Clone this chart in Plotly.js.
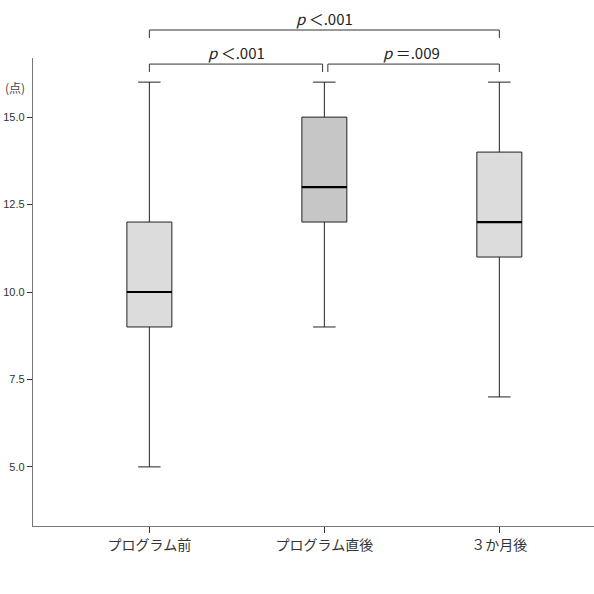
<!DOCTYPE html>
<html>
<head>
<meta charset="utf-8">
<script src="https://cdn.plot.ly/plotly-3.0.1.min.js"></script>
<style>html,body{margin:0;padding:0;background:#fff;overflow:hidden;}#chart{width:594px;height:594px;}</style>
</head>
<body>
<div id="chart"></div>
<script>
const categories = ["プログラム前", "プログラム直後", "３か月後"];
const lowerFence = [5, 9, 7];
const q1 = [9, 12, 11];
const median = [10, 13, 12];
const q3 = [12, 15, 14];
const upperFence = [16, 16, 16];
const fills = ["#dcdcdc", "#c6c6c6", "#dcdcdc"];
const yTicks = [5, 7.5, 10, 12.5, 15];
const comparisons = [
  {from: 0, to: 2, text: "<i>p</i> ＜.001", level: 2},
  {from: 0, to: 1, text: "<i>p</i> ＜.001", level: 1},
  {from: 1, to: 2, text: "<i>p</i> ＝.009", level: 1}
];

const boxW = 0.257;
const traces = categories.map((c, i) => ({
  type: "box",
  x: [i],
  q1: [q1[i]], median: [median[i]], q3: [q3[i]],
  lowerfence: [lowerFence[i]], upperfence: [upperFence[i]],
  width: boxW,
  whiskerwidth: 0.5,
  fillcolor: fills[i],
  line: {color: "#222", width: 1},
  boxpoints: false,
  hoverinfo: "none",
  showlegend: false
}));

const shapes = [];
categories.forEach((c, i) => {
  shapes.push({type: "line", xref: "x", yref: "y", x0: i - boxW / 2, x1: i + boxW / 2,
    y0: median[i], y1: median[i], line: {color: "#000", width: 2.2}});
});
const annotations = [];
const levelY = {1: 0.987, 2: 1.0598};
const drop = 0.017;
comparisons.forEach(cp => {
  const yy = levelY[cp.level];
  let a = cp.from, b = cp.to;
  if (cp.level === 1) {
    if (cp.from === 1) a = cp.from + 0.02;
    if (cp.to === 1) b = cp.to - 0.01;
  }
  shapes.push({type: "path", xref: "x", yref: "paper",
    path: `M ${a} ${yy - drop} L ${a} ${yy} L ${b} ${yy} L ${b} ${yy - drop}`,
    line: {color: "#333", width: 1}});
  annotations.push({xref: "x", yref: "paper", x: (cp.from + cp.to) / 2, y: yy,
    yanchor: "bottom", showarrow: false, text: cp.text,
    font: {family: "Noto Sans CJK JP, Liberation Sans", size: 15, color: "#222"}, yshift: -1});
});
annotations.push({xref: "paper", yref: "paper", x: -0.053, y: 0.936, xanchor: "left", yanchor: "middle",
  showarrow: false, text: "(点)", font: {family: "Noto Sans CJK JP", size: 12, color: "#444"}});

const layout = {
  width: 594, height: 594,
  margin: {l: 33, r: 0, t: 58, b: 68, pad: 0},
  paper_bgcolor: "#fff", plot_bgcolor: "#fff",
  showlegend: false,
  boxmode: "overlay",
  xaxis: {
    range: [-0.665, 2.541], tickvals: [0, 1, 2], ticktext: categories,
    showgrid: false, zeroline: false, showline: true, linecolor: "#777", linewidth: 1.2,
    ticks: "outside", ticklen: 6, tickcolor: "#333",
    tickfont: {family: "Noto Sans CJK JP", size: 14, color: "#333"}
  },
  yaxis: {
    range: [3.31, 16.69], tickvals: yTicks, tickformat: ".1f",
    showgrid: false, zeroline: false, showline: true, linecolor: "#777", linewidth: 1.2,
    ticks: "outside", ticklen: 5, tickcolor: "#333",
    tickfont: {family: "Liberation Sans, Arial", size: 11, color: "#333"}
  },
  shapes: shapes,
  annotations: annotations
};
Plotly.newPlot("chart", traces, layout, {staticPlot: true});
</script>
</body>
</html>
